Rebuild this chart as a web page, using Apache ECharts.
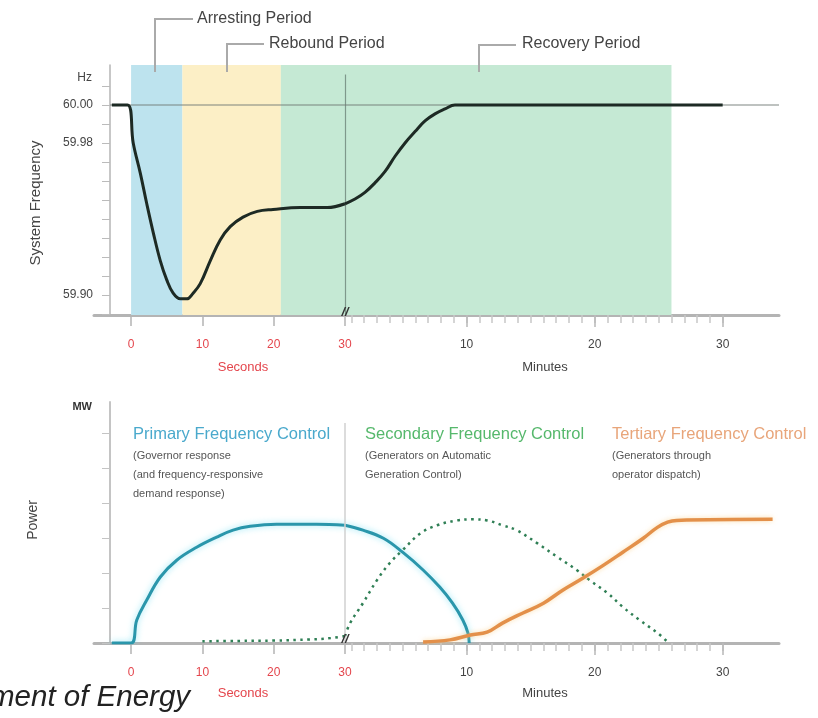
<!DOCTYPE html>
<html>
<head>
<meta charset="utf-8">
<script src="https://cdn.jsdelivr.net/npm/echarts@6/dist/echarts.min.js"></script>
<style>html,body{margin:0;padding:0;background:#fff;}#c{width:818px;height:718px;}</style>
</head>
<body>
<div id="c"></div>
<script>
// ---------- data ----------
const secondsLabels = [0, 10, 20, 30];
const minutesLabels = [10, 20, 30];
const minutesMinorTicks = [1,2,3,4,5,6,7,8,9,10,11,12,13,14,15,16,17,18,19,20,21,22,23,24,25,26,27,28,29,30];
const freqLabels = [59.90, 59.98, 60.00];
const freqTicks = [59.89, 59.90, 59.91, 59.92, 59.93, 59.94, 59.95, 59.96, 59.97, 59.98, 59.99, 60.00, 60.01];
const powerTicks = [0, 1, 2, 3, 4, 5, 6];

// period spans (seconds / minutes)
const arrestingSeconds = [0, 7.2];
const reboundSeconds = [7.2, 21];
const recoverySeconds = [21, 30];
const recoveryMinutes = [0.5, 26];

// system frequency (Hz)
const freqSeconds = [[-2.7,60.000],[-0.5,60.000],[0.3,59.980],[1.3,59.964],[2.2,59.948],[3.1,59.933],[4.1,59.918],[5.0,59.908],[5.9,59.901],[6.9,59.898],[7.8,59.898],[8.7,59.901],[9.7,59.906],[11.1,59.918],[12.5,59.929],[13.9,59.936],[15.7,59.941],[17.7,59.944],[19.9,59.945],[23.7,59.946],[27.5,59.946],[30,59.948]];
const freqMinutes = [[0.5,59.948],[1.28,59.9505],[2.06,59.954],[2.84,59.959],[3.63,59.965],[4.41,59.973],[5.19,59.980],[5.97,59.986],[6.75,59.9916],[7.53,59.9953],[8.31,59.9979],[9.09,60.000],[30,60.000]];

// power (MW, schematic units)
const primarySeconds = [[-2.7,0],[0,0],[0.8,0.66],[2.2,1.23],[4.1,1.89],[6.4,2.37],[9.2,2.74],[12.0,3.03],[14.3,3.23],[16.7,3.34],[20.4,3.40],[26,3.40],[30,3.37]];
const primaryMinutes = [[0.5,3.37],[1.9,3.23],[3.5,3.0],[5.0,2.6],[6.6,2.09],[7.9,1.6],[8.9,1.14],[9.7,0.66],[10.1,0.29],[10.2,0]];
const secondarySeconds = [[10,0.05],[15,0.06],[20,0.07],[25,0.1],[28,0.14],[30,0.2]];
const secondaryMinutes = [[0.5,0.2],[0.9,0.57],[1.9,1.14],[3.0,1.8],[4.0,2.29],[5.0,2.66],[6.4,3.14],[7.7,3.37],[9.25,3.51],[10.5,3.54],[11.6,3.51],[12.8,3.37],[13.9,3.23],[15.5,2.86],[17.1,2.46],[18.6,2.09],[19.6,1.8],[21.0,1.43],[22.2,1.03],[23.5,0.66],[24.9,0.29],[25.7,0.03]];
const tertiaryMinutes = [[6.6,0.03],[8.7,0.09],[10.3,0.23],[11.6,0.31],[12.8,0.57],[14.4,0.86],[16.0,1.14],[17.5,1.51],[19.1,1.86],[20.7,2.23],[22.2,2.6],[23.8,3.0],[24.9,3.31],[25.7,3.46],[26.4,3.51],[33.9,3.54]];

// ---------- styles ----------
const FONT = 'Liberation Sans, Arial, sans-serif';
const RED = '#e4464d';
const AXIS = '#b4b4b4';
const BLUE_BG = '#bde3ee';
const YELLOW_BG = '#fcefc6';
const GREEN_BG = '#c5e9d4';

const chart = echarts.init(document.getElementById('c'), null, {renderer: 'canvas'});

function secAxis(gridIndex) {
  return {
    type: 'value', gridIndex, min: -5.2, max: 30,
    axisLine: {show: true, onZero: false, lineStyle: {color: AXIS, width: 3}},
    axisTick: {show: true, customValues: secondsLabels, length: 11, lineStyle: {color: AXIS, width: 1.5}},
    axisLabel: {show: true, customValues: secondsLabels, color: RED, fontSize: 12, fontFamily: FONT, margin: 24},
    splitLine: {show: false}
  };
}
function minAxis(gridIndex) {
  return {
    type: 'value', gridIndex, min: 0.5, max: 34.4,
    axisLine: {show: true, onZero: false, lineStyle: {color: AXIS, width: 3}},
    axisTick: {show: true, customValues: minutesMinorTicks, length: 8, lineStyle: {color: '#c8c8c8', width: 1.5}},
    axisLabel: {show: true, customValues: minutesLabels, color: '#444', fontSize: 12, fontFamily: FONT, margin: 24},
    splitLine: {show: false}
  };
}
function minMajor(gridIndex) {
  return {
    type: 'value', gridIndex, min: 0.5, max: 34.4, position: 'bottom',
    axisLine: {show: false, onZero: false},
    axisTick: {show: true, customValues: minutesLabels, length: 12, lineStyle: {color: '#b8b8b8', width: 1.5}},
    axisLabel: {show: false},
    splitLine: {show: false}
  };
}

const SMOOTH = 0.4;

const option = {
  animation: false,
  backgroundColor: '#fff',
  textStyle: {fontFamily: FONT},
  grid: [
    {left: 94, top: 65, width: 251, height: 250},
    {left: 345, top: 65, width: 434, height: 250},
    {left: 94, top: 402, width: 251, height: 241},
    {left: 345, top: 402, width: 434, height: 241}
  ],
  xAxis: [secAxis(0), minAxis(1), minMajor(1), secAxis(2), minAxis(3), minMajor(3)],
  yAxis: [
    {
      type: 'value', gridIndex: 0, min: 59.8895, max: 60.021, offset: -16,
      axisLine: {show: true, onZero: false, lineStyle: {color: AXIS, width: 1.5}},
      axisTick: {show: true, customValues: freqTicks, length: 8, lineStyle: {color: '#bbb'}},
      axisLabel: {show: true, customValues: freqLabels, formatter: v => v.toFixed(2), color: '#444', fontSize: 12, fontFamily: FONT, margin: 17},
      splitLine: {show: false}
    },
    {type: 'value', gridIndex: 1, min: 59.8895, max: 60.021, show: false},
    {
      type: 'value', gridIndex: 2, min: 0, max: 6.9, offset: -16,
      axisLine: {show: true, onZero: false, lineStyle: {color: '#c4c4c4', width: 2}},
      axisTick: {show: true, customValues: powerTicks, length: 8, lineStyle: {color: '#c4c4c4'}},
      axisLabel: {show: false},
      splitLine: {show: false}
    },
    {type: 'value', gridIndex: 3, min: 0, max: 6.9, show: false}
  ],
  series: [
    {
      type: 'line', xAxisIndex: 0, yAxisIndex: 0, data: freqSeconds,
      smooth: SMOOTH, symbol: 'none',
      lineStyle: {color: '#1d2a24', width: 3}, z: 5,
      markArea: {silent: true, data: [
        [{xAxis: arrestingSeconds[0], itemStyle: {color: BLUE_BG}}, {xAxis: arrestingSeconds[1]}],
        [{xAxis: reboundSeconds[0], itemStyle: {color: YELLOW_BG}}, {xAxis: reboundSeconds[1]}],
        [{xAxis: recoverySeconds[0], itemStyle: {color: GREEN_BG}}, {xAxis: recoverySeconds[1]}]
      ]},
      markLine: {silent: true, symbol: 'none', label: {show: false},
        lineStyle: {color: 'rgba(110,120,115,0.45)', width: 2, type: 'solid'},
        data: [[{coord: [-2.95, 60]}, {coord: [30, 60]}]]}
    },
    {
      type: 'line', xAxisIndex: 1, yAxisIndex: 1, data: freqMinutes,
      smooth: SMOOTH, symbol: 'none',
      lineStyle: {color: '#1d2a24', width: 3}, z: 5,
      markArea: {silent: true, data: [
        [{xAxis: recoveryMinutes[0], itemStyle: {color: GREEN_BG}}, {xAxis: recoveryMinutes[1]}]
      ]},
      markLine: {silent: true, symbol: 'none', label: {show: false},
        data: [
          [{coord: [0.5, 59.8895], lineStyle: {color: '#7f988b', width: 1.2, type: 'solid'}}, {coord: [0.5, 60.016]}],
          [{coord: [0.5, 60], lineStyle: {color: 'rgba(110,120,115,0.45)', width: 2, type: 'solid'}}, {coord: [34.4, 60]}]
        ]}
    },
    {
      name: 'Primary', type: 'line', xAxisIndex: 3, yAxisIndex: 2, data: primarySeconds,
      smooth: SMOOTH, symbol: 'none',
      lineStyle: {color: '#2a96ab', width: 3, shadowColor: 'rgba(80,215,240,0.6)', shadowBlur: 6}
    },
    {
      name: 'Primary', type: 'line', xAxisIndex: 4, yAxisIndex: 3, data: primaryMinutes,
      smooth: SMOOTH, symbol: 'none',
      lineStyle: {color: '#2a96ab', width: 3, shadowColor: 'rgba(80,215,240,0.6)', shadowBlur: 6},
      markLine: {silent: true, symbol: 'none', label: {show: false},
        lineStyle: {color: '#d0d0d0', width: 1.5, type: 'solid'},
        data: [[{coord: [0.5, 6.3]}, {coord: [0.5, 0]}]]}
    },
    {
      name: 'Secondary', type: 'line', xAxisIndex: 3, yAxisIndex: 2, data: secondarySeconds,
      smooth: SMOOTH, symbol: 'none',
      lineStyle: {color: '#2f7f55', width: 2.5, type: [2.5, 4.5]}
    },
    {
      name: 'Secondary', type: 'line', xAxisIndex: 4, yAxisIndex: 3, data: secondaryMinutes,
      smooth: SMOOTH, symbol: 'none',
      lineStyle: {color: '#2f7f55', width: 2.5, type: [2.5, 4.5]}
    },
    {
      name: 'Tertiary', type: 'line', xAxisIndex: 4, yAxisIndex: 3, data: tertiaryMinutes,
      smooth: SMOOTH, symbol: 'none',
      lineStyle: {color: '#e3904a', width: 3.5, shadowColor: 'rgba(250,200,120,0.6)', shadowBlur: 5}
    }
  ],
  graphic: [
    // period annotations
    {type: 'polyline', shape: {points: [[155, 72], [155, 19], [193, 19]]}, style: {stroke: '#aaa', lineWidth: 2, fill: null}, z: 10},
    {type: 'text', x: 197, y: 19, style: {text: 'Arresting Period', fill: '#444', font: '16px ' + FONT, verticalAlign: 'middle'}, z: 10},
    {type: 'polyline', shape: {points: [[227, 72], [227, 44], [264, 44]]}, style: {stroke: '#aaa', lineWidth: 2, fill: null}, z: 10},
    {type: 'text', x: 269, y: 44, style: {text: 'Rebound Period', fill: '#444', font: '16px ' + FONT, verticalAlign: 'middle'}, z: 10},
    {type: 'polyline', shape: {points: [[479, 72], [479, 45], [516, 45]]}, style: {stroke: '#aaa', lineWidth: 2, fill: null}, z: 10},
    {type: 'text', x: 522, y: 44, style: {text: 'Recovery Period', fill: '#444', font: '16px ' + FONT, verticalAlign: 'middle'}, z: 10},
    // axis units & names
    {type: 'text', x: 92, y: 78, style: {text: 'Hz', fill: '#444', font: '12px ' + FONT, align: 'right', verticalAlign: 'middle'}},
    {type: 'text', x: 36, y: 203, rotation: Math.PI / 2, style: {text: 'System Frequency', fill: '#444', font: '15px ' + FONT, align: 'center', verticalAlign: 'middle'}},
    {type: 'text', x: 243, y: 367, style: {text: 'Seconds', fill: RED, font: '13px ' + FONT, align: 'center', verticalAlign: 'middle'}},
    {type: 'text', x: 545, y: 367, style: {text: 'Minutes', fill: '#444', font: '13px ' + FONT, align: 'center', verticalAlign: 'middle'}},
    {type: 'text', x: 345, y: 312, style: {text: '//', fill: '#333', font: 'italic bold 13px ' + FONT, align: 'center', verticalAlign: 'middle'}, z: 20},
    {type: 'text', x: 92, y: 407, style: {text: 'MW', fill: '#333', font: 'bold 11px ' + FONT, align: 'right', verticalAlign: 'middle'}},
    {type: 'text', x: 33, y: 520, rotation: Math.PI / 2, style: {text: 'Power', fill: '#444', font: '14px ' + FONT, align: 'center', verticalAlign: 'middle'}},
    {type: 'text', x: 243, y: 693, style: {text: 'Seconds', fill: RED, font: '13px ' + FONT, align: 'center', verticalAlign: 'middle'}},
    {type: 'text', x: 545, y: 693, style: {text: 'Minutes', fill: '#444', font: '13px ' + FONT, align: 'center', verticalAlign: 'middle'}},
    {type: 'text', x: 345, y: 639, style: {text: '//', fill: '#333', font: 'italic bold 13px ' + FONT, align: 'center', verticalAlign: 'middle'}, z: 20},
    // control labels
    {type: 'text', x: 133, y: 434, style: {text: 'Primary Frequency Control', fill: '#4aa9cc', font: '16.5px ' + FONT, verticalAlign: 'middle'}},
    {type: 'text', x: 133, y: 446, style: {text: '(Governor response\n(and frequency-responsive\ndemand response)', fill: '#555', font: '11px ' + FONT, verticalAlign: 'top', lineHeight: 19}},
    {type: 'text', x: 365, y: 434, style: {text: 'Secondary Frequency Control', fill: '#56b86c', font: '16.5px ' + FONT, verticalAlign: 'middle'}},
    {type: 'text', x: 365, y: 446, style: {text: '(Generators on Automatic\nGeneration Control)', fill: '#555', font: '11px ' + FONT, verticalAlign: 'top', lineHeight: 19}},
    {type: 'text', x: 612, y: 434, style: {text: 'Tertiary Frequency Control', fill: '#e8a57a', font: '16.5px ' + FONT, verticalAlign: 'middle'}},
    {type: 'text', x: 612, y: 446, style: {text: '(Generators through\noperator dispatch)', fill: '#555', font: '11px ' + FONT, verticalAlign: 'top', lineHeight: 19}},
    // source fragment
    {type: 'text', x: -10, y: 698, style: {text: 'ment of Energy', fill: '#222', font: 'italic 29.5px ' + FONT, verticalAlign: 'middle'}}
  ]
};
chart.setOption(option);
</script>
</body>
</html>
